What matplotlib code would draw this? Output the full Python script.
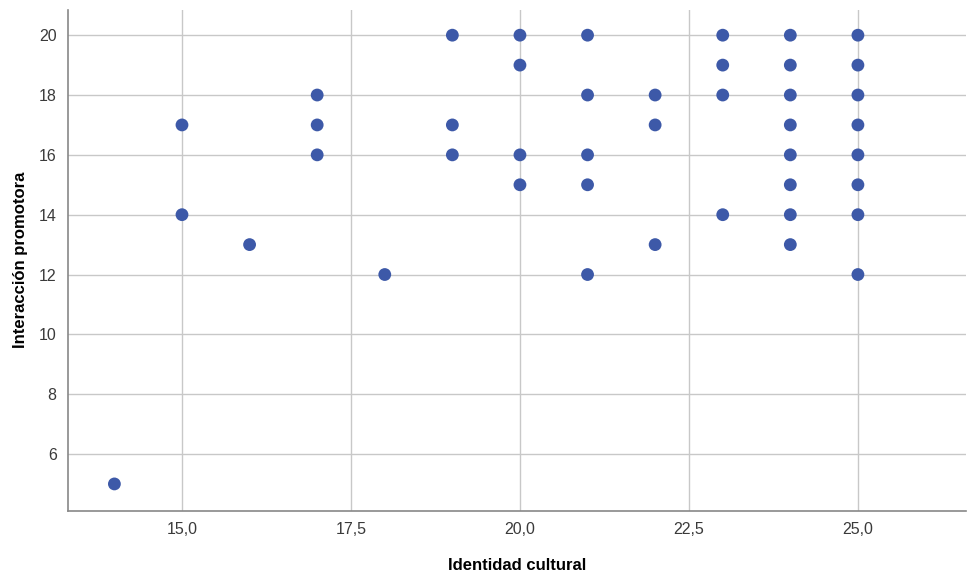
import matplotlib.pyplot as plt
from matplotlib.ticker import FuncFormatter

plt.rcParams['font.family'] = ['Liberation Sans', 'DejaVu Sans']

# Identidad cultural (x) vs Interacción promotora (y)
identidad = [14,
             15, 15,
             16,
             17, 17, 17,
             18,
             19, 19, 19,
             20, 20, 20, 20,
             21, 21, 21, 21, 21,
             22, 22, 22,
             23, 23, 23, 23,
             24, 24, 24, 24, 24, 24, 24, 24,
             25, 25, 25, 25, 25, 25, 25, 25]
interaccion = [5,
               17, 14,
               13,
               18, 17, 16,
               12,
               20, 17, 16,
               20, 19, 16, 15,
               20, 18, 16, 15, 12,
               18, 17, 13,
               20, 19, 18, 14,
               20, 19, 18, 17, 16, 15, 14, 13,
               20, 19, 18, 17, 16, 15, 14, 12]

x_ticks = [15.0, 17.5, 20.0, 22.5, 25.0]
y_ticks = [6, 8, 10, 12, 14, 16, 18, 20]

fig = plt.figure(figsize=(9.68, 5.74), dpi=100)
ax = fig.add_axes([0.070, 0.110, 0.928, 0.873])

ax.scatter(identidad, interaccion, s=85, color='#3d59a8', edgecolors='none', zorder=3)

ax.set_xlim(13.31, 26.6)
ax.set_ylim(4.1, 20.85)
ax.set_xticks(x_ticks)
ax.set_yticks(y_ticks)
ax.xaxis.set_major_formatter(FuncFormatter(lambda v, p: f'{v:.1f}'.replace('.', ',')))
ax.grid(True, color='#c8c8c8', linewidth=1.0)
ax.set_axisbelow(True)
ax.tick_params(length=0, labelsize=11.5, colors='#3a3a3a', pad=8)

for s in ['top', 'right']:
    ax.spines[s].set_visible(False)
for s in ['left', 'bottom']:
    ax.spines[s].set_color('#888888')
    ax.spines[s].set_linewidth(1.2)

ax.set_xlabel('Identidad cultural', fontsize=12, fontweight='bold', labelpad=15)
ax.set_ylabel('Interacción promotora', fontsize=12, fontweight='bold', labelpad=8)

fig.savefig('out.png', dpi=100)
